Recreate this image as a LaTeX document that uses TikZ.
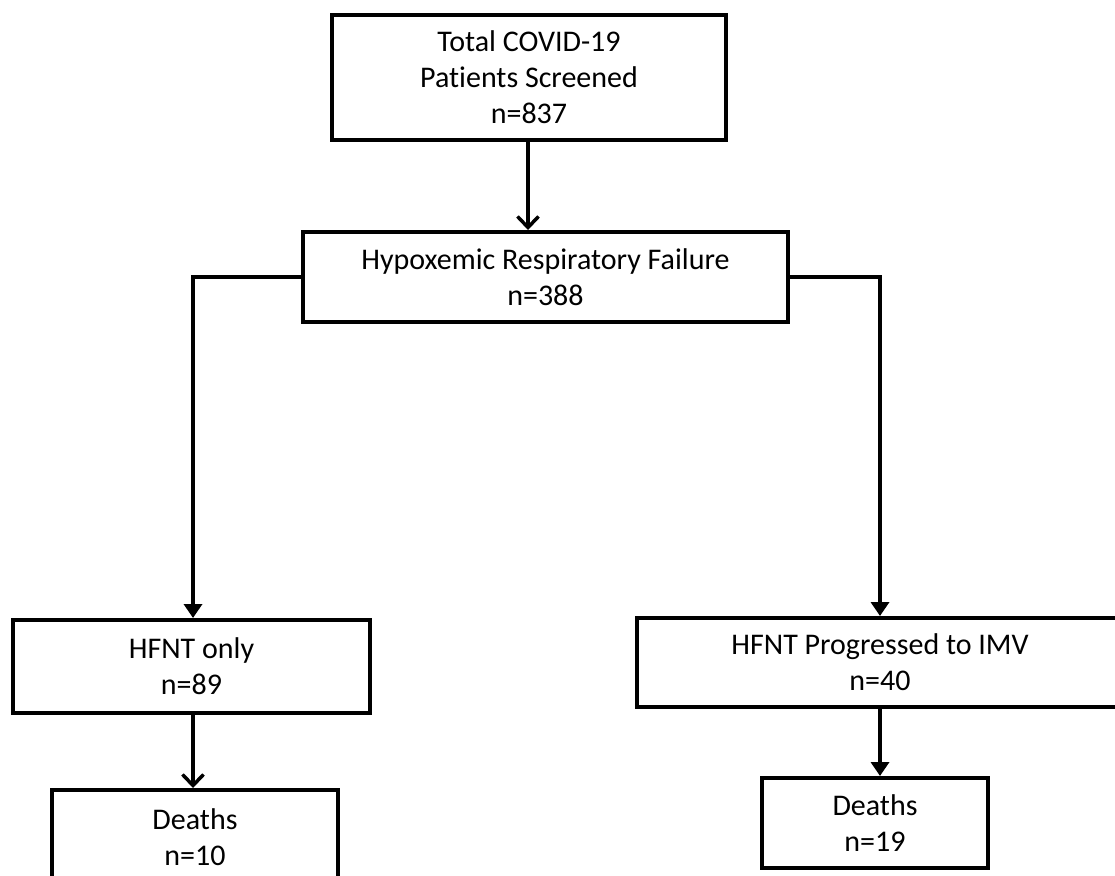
\documentclass[tikz,border=0pt]{standalone}
\usepackage{fontspec}
\setmainfont{Carlito}[Ligatures=NoCommon]
\usetikzlibrary{arrows.meta}
\tikzset{
  box/.style={draw=black, line width=4pt, fill=white, align=center, inner sep=0pt,
    font=\fontsize{30}{36}\selectfont},
  conn/.style={draw=black, line width=3.5pt},
  tri/.style={conn, -{Triangle[width=18pt,length=14pt]}},
  barb/.style={conn, -{Straight Barb[width=21pt,length=11pt,line width=3.5pt]}}
}
\begin{document}
\begin{tikzpicture}[x=1pt,y=-1pt]
\useasboundingbox (0,0) rectangle (1115,875);
\clip (0,0) rectangle (1115,875);
\node[box, minimum width=394pt, minimum height=125pt] (top) at (529,77.5) {Total COVID-19\\Patients Screened\\n=837};
\node[box, minimum width=485pt, minimum height=90pt] (hrf) at (545.5,277) {Hypoxemic Respiratory Failure\\n=388};
\node[box, minimum width=357pt, minimum height=93pt] (hf) at (191.5,666.5) {HFNT only\\n=89};
\node[box, minimum width=486pt, minimum height=89pt] (hfp) at (880,662.5) {HFNT Progressed to IMV\\n=40};
\node[box, minimum width=286pt, minimum height=95pt] (d1) at (195,837.5) {Deaths\\n=10};
\node[box, minimum width=226pt, minimum height=90pt] (d2) at (875,823) {Deaths\\n=19};
\coordinate (lc) at (193,277);
\coordinate (rc) at (880,277);
\draw[barb] (top.south -| 528,0) -- (hrf.north -| 528,0);
\draw[tri] (hrf.west) -- (lc) -- (lc |- hf.north);
\draw[tri] (hrf.east) -- (rc) -- (rc |- hfp.north);
\draw[barb] (hf.south -| 193,0) -- (d1.north -| 193,0);
\draw[tri] (hfp.south) -- (hfp.south |- d2.north);
\end{tikzpicture}
\end{document}
